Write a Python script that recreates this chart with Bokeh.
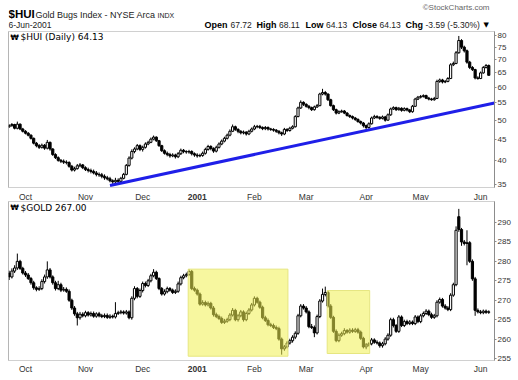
import math
import numpy as np
import pandas as pd
from bokeh.plotting import figure
from bokeh.layouts import column
from bokeh.models import ColumnDataSource, Range1d, FixedTicker, NumeralTickFormatter, Label, Span
from bokeh.core.properties import value
from bokeh.embed import file_html
from bokeh.resources import INLINE

# ---------------- data ----------------
holidays = ["2000-11-23", "2000-12-25", "2001-01-01", "2001-01-15",
            "2001-02-19", "2001-04-13", "2001-05-28"]
month_keys = ["2000-10", "2000-11", "2000-12", "2001-01", "2001-02",
              "2001-03", "2001-04", "2001-05", "2001-06"]
month_labels = ["Oct", "Nov", "Dec", "2001", "Feb", "Mar", "Apr", "May", "Jun"]
hui_ticks = [35, 40, 45, 50, 55, 60, 65, 70, 75, 80]
gold_ticks = [255, 260, 265, 270, 275, 280, 285, 290]

hui_open = [
    48.2, 48.5, 48.8, 47.8, 48.9, 47.6,
    47.0, 46.5, 46.0, 45.2, 44.0, 43.4, 43.0, 43.5, 42.8, 44.2,
    42.6, 41.3, 40.6, 40.0, 39.8, 39.6, 39.5, 38.7, 37.9, 38.2,
    38.8, 39.0, 38.4, 38.0, 37.8, 37.6, 37.3, 37.0, 36.9, 36.6,
    36.3, 36.1, 35.7, 35.5, 35.8, 35.6, 36.2, 37.0, 38.9, 40.5,
    42.0, 42.6, 43.4, 42.5, 43.0, 43.8, 44.2, 45.0, 45.5, 44.6,
    43.4, 42.2, 41.6, 41.3, 41.0, 41.2, 40.8, 41.5, 42.3, 42.0,
    41.9, 42.0, 41.5, 41.2, 41.0, 41.1, 41.6, 42.5, 43.2, 42.7,
    42.1, 43.0, 43.8, 44.5, 45.2, 46.0, 47.0, 48.2, 47.5, 47.0,
    46.6, 46.8, 46.3, 47.0, 47.6, 48.2, 48.3, 48.0, 47.7, 48.0,
    47.6, 47.5, 47.3, 47.0, 46.6, 46.3, 47.5, 47.2, 47.8, 48.2,
    51.0, 53.5, 55.2, 54.6, 54.0, 53.6, 53.0, 53.8, 54.2, 57.8,
    58.3, 57.8, 56.0, 54.2, 53.0, 52.0, 52.4, 52.6, 52.0, 51.3,
    51.0, 50.6, 50.2, 49.6, 49.2, 48.5, 48.0, 49.0, 50.6, 51.0,
    50.8, 50.5, 50.9, 50.0, 51.5, 53.2, 53.6, 53.0, 53.4, 52.8,
    53.3, 52.9, 52.4, 54.0, 56.2, 56.8, 57.0, 57.3, 56.5, 56.2,
    56.0, 56.4, 62.0, 62.5, 61.8, 62.0, 63.0, 68.0, 68.5, 72.7,
    77.8, 75.0, 73.5, 69.0, 67.0, 66.2, 63.2, 63.0, 65.0, 67.0,
    67.72]
hui_high = [
    48.9, 49.2, 49.0, 49.6, 49.1, 47.9,
    47.3, 46.8, 46.2, 45.4, 44.3, 43.8, 43.9, 43.8, 44.8, 44.4,
    42.8, 41.6, 40.9, 40.3, 40.2, 40.0, 39.8, 39.0, 38.6, 39.2,
    39.4, 39.2, 38.7, 38.4, 38.2, 38.0, 37.7, 37.4, 37.3, 37.0,
    36.7, 36.5, 36.0, 36.3, 36.2, 36.5, 37.3, 39.2, 40.9, 42.5,
    43.0, 43.8, 43.7, 43.4, 44.2, 44.6, 45.4, 45.9, 45.7, 44.8,
    43.6, 42.5, 42.0, 41.7, 41.6, 41.5, 41.9, 42.7, 42.6, 42.3,
    42.4, 42.3, 41.8, 41.6, 41.5, 42.0, 42.9, 43.6, 43.5, 43.0,
    43.4, 44.2, 44.9, 45.6, 46.4, 47.5, 48.8, 48.5, 47.8, 47.3,
    47.2, 47.0, 47.4, 48.0, 48.7, 48.7, 48.7, 48.3, 48.4, 48.3,
    47.9, 47.8, 47.6, 47.3, 46.9, 47.9, 47.8, 48.2, 48.6, 51.4,
    53.9, 55.8, 55.5, 54.9, 54.4, 53.9, 54.2, 54.7, 58.2, 59.5,
    58.8, 58.0, 56.3, 54.5, 53.3, 52.8, 53.0, 52.9, 52.3, 51.6,
    51.3, 50.9, 50.5, 49.9, 49.5, 48.8, 49.4, 51.0, 51.5, 51.4,
    51.1, 51.3, 51.2, 51.9, 53.6, 54.0, 53.9, 53.8, 53.7, 53.7,
    53.6, 53.2, 54.4, 56.6, 57.2, 57.5, 57.7, 57.6, 56.9, 56.6,
    56.9, 62.6, 63.0, 62.9, 62.5, 63.5, 68.6, 69.2, 73.4, 79.8,
    78.4, 75.6, 74.0, 69.5, 67.5, 66.5, 63.8, 65.5, 67.5, 68.3,
    68.11]
hui_low = [
    47.9, 48.2, 47.5, 47.5, 47.3, 46.7,
    46.2, 45.7, 44.9, 43.7, 43.0, 42.6, 42.7, 42.4, 42.5, 42.2,
    41.0, 40.3, 39.7, 39.4, 39.2, 39.1, 38.4, 37.6, 37.6, 38.0,
    38.5, 38.1, 37.7, 37.4, 37.2, 37.0, 36.6, 36.5, 36.2, 35.9,
    35.8, 35.4, 35.1, 35.2, 35.3, 35.4, 36.0, 36.8, 38.6, 40.2,
    41.6, 42.3, 42.1, 42.0, 42.7, 43.5, 44.0, 44.7, 44.3, 43.1,
    41.9, 41.3, 40.9, 40.6, 40.7, 40.4, 40.5, 41.2, 41.6, 41.5,
    41.5, 41.1, 40.8, 40.6, 40.7, 40.8, 41.3, 42.2, 42.3, 41.7,
    41.8, 42.7, 43.5, 44.2, 44.9, 45.7, 46.8, 47.1, 46.5, 46.2,
    46.2, 45.9, 46.0, 46.7, 47.3, 47.8, 47.6, 47.3, 47.3, 47.2,
    47.1, 46.9, 46.6, 46.2, 45.8, 46.0, 46.8, 46.9, 47.5, 48.0,
    50.8, 53.2, 54.1, 53.6, 53.1, 52.6, 52.7, 53.5, 54.0, 57.4,
    57.3, 55.6, 53.9, 52.6, 51.6, 51.7, 52.1, 51.7, 51.0, 50.6,
    50.2, 49.8, 49.3, 48.8, 48.0, 47.3, 47.7, 48.8, 50.3, 50.4,
    50.1, 50.2, 49.6, 49.8, 51.2, 52.9, 52.6, 52.7, 52.4, 52.5,
    52.5, 52.0, 52.1, 53.8, 55.9, 56.4, 56.7, 56.2, 55.8, 55.7,
    55.7, 56.2, 61.5, 61.3, 61.4, 61.7, 62.8, 67.5, 68.2, 72.3,
    74.2, 72.8, 68.4, 66.4, 65.7, 62.7, 62.6, 62.8, 64.7, 66.6,
    64.13]
hui_close = [
    48.5, 48.8, 47.8, 48.9, 47.6, 47.0,
    46.5, 46.0, 45.2, 44.0, 43.4, 43.0, 43.5, 42.8, 44.2, 42.6,
    41.3, 40.6, 40.0, 39.8, 39.6, 39.5, 38.7, 37.9, 38.2, 38.8,
    39.0, 38.4, 38.0, 37.8, 37.6, 37.3, 37.0, 36.9, 36.6, 36.3,
    36.1, 35.7, 35.5, 35.8, 35.6, 36.2, 37.0, 38.9, 40.5, 42.0,
    42.6, 43.4, 42.5, 43.0, 43.8, 44.2, 45.0, 45.5, 44.6, 43.4,
    42.2, 41.6, 41.3, 41.0, 41.2, 40.8, 41.5, 42.3, 42.0, 41.9,
    42.0, 41.5, 41.2, 41.0, 41.1, 41.6, 42.5, 43.2, 42.7, 42.1,
    43.0, 43.8, 44.5, 45.2, 46.0, 47.0, 48.2, 47.5, 47.0, 46.6,
    46.8, 46.3, 47.0, 47.6, 48.2, 48.3, 48.0, 47.7, 48.0, 47.6,
    47.5, 47.3, 47.0, 46.6, 46.3, 47.5, 47.2, 47.8, 48.2, 51.0,
    53.5, 55.2, 54.6, 54.0, 53.6, 53.0, 53.8, 54.2, 57.8, 58.3,
    57.8, 56.0, 54.2, 53.0, 52.0, 52.4, 52.6, 52.0, 51.3, 51.0,
    50.6, 50.2, 49.6, 49.2, 48.5, 48.0, 49.0, 50.6, 51.0, 50.8,
    50.5, 50.9, 50.0, 51.5, 53.2, 53.6, 53.0, 53.4, 52.8, 53.3,
    52.9, 52.4, 54.0, 56.2, 56.8, 57.0, 57.3, 56.5, 56.2, 56.0,
    56.4, 62.0, 62.5, 61.8, 62.0, 63.0, 68.0, 68.5, 72.7, 77.8,
    75.0, 73.5, 69.0, 67.0, 66.2, 63.2, 63.0, 65.0, 67.0, 67.7,
    64.13]

gold_open = [
    277.0, 276.0, 277.5, 278.3, 280.0, 278.2,
    277.0, 276.5, 275.6, 274.5, 273.2, 272.8, 273.0, 274.8, 276.0, 277.8,
    276.0, 274.5, 273.0, 274.0, 272.6, 272.8, 272.3, 270.0, 268.0, 266.5,
    265.5, 266.4, 266.0, 266.8, 266.2, 266.6, 265.9, 266.5, 266.0, 265.8,
    266.1, 265.6, 265.9, 265.7, 266.6, 266.8, 267.0, 266.7, 267.0, 265.5,
    270.5, 273.0, 271.0, 272.5, 274.3, 273.8, 275.0, 276.3, 277.2, 275.6,
    273.0, 271.6, 272.2, 273.0, 272.6, 272.0, 272.3, 274.2, 275.8, 276.3,
    276.6, 277.4, 273.0, 272.6, 271.6, 269.0, 269.4, 268.8, 269.2, 268.0,
    266.3, 265.8, 265.3, 264.3, 264.6, 265.0, 266.2, 267.4, 265.0, 266.0,
    267.0, 265.0, 266.6, 267.5, 268.8, 270.5, 269.5, 268.2, 265.5, 264.8,
    263.7, 263.5, 263.0, 262.7, 260.0, 257.5, 258.0, 259.0, 259.6, 260.5,
    261.5, 266.0, 268.5, 268.0, 267.0, 263.2, 263.0, 261.6, 265.8, 269.8,
    271.5, 272.0, 268.5, 265.6, 262.0, 259.6, 261.0, 261.4, 262.2, 261.8,
    262.3, 262.0, 262.4, 261.8, 260.2, 258.0, 258.5, 258.8, 259.8, 259.2,
    259.0, 258.3, 258.8, 260.0, 261.0, 265.0, 263.5, 262.0, 265.7, 263.5,
    264.5, 264.0, 264.4, 264.0, 265.7, 264.5, 266.0, 266.6, 267.2, 266.3,
    265.6, 266.0, 269.5, 270.2, 268.5, 268.0, 267.6, 271.3, 274.0, 291.5,
    288.2, 285.0, 284.6, 284.8, 280.0, 275.5, 267.4, 267.0, 266.8, 267.2,
    266.9]
gold_high = [
    277.6, 278.2, 279.0, 282.0, 280.4, 278.6,
    277.5, 277.0, 276.0, 275.0, 273.6, 273.6, 275.4, 276.6, 280.0, 278.3,
    276.4, 275.0, 275.0, 274.5, 273.4, 273.3, 272.8, 270.4, 268.5, 267.0,
    267.0, 266.9, 267.3, 267.2, 267.1, 267.1, 266.9, 267.0, 266.5, 266.6,
    266.6, 266.4, 266.3, 269.5, 267.3, 267.5, 267.4, 267.5, 267.4, 271.0,
    273.6, 273.4, 273.0, 274.8, 274.8, 275.5, 276.8, 278.0, 277.6, 275.9,
    273.4, 272.8, 273.5, 273.4, 273.0, 272.8, 274.8, 276.3, 276.8, 277.1,
    278.0, 277.8, 273.5, 273.0, 272.0, 270.0, 269.9, 269.7, 269.6, 268.5,
    266.8, 266.3, 265.8, 265.2, 265.5, 266.7, 268.0, 267.8, 266.5, 267.5,
    267.4, 267.1, 268.0, 269.3, 271.0, 270.9, 269.9, 268.6, 266.0, 265.3,
    264.2, 264.0, 263.5, 263.2, 260.4, 258.5, 259.5, 260.1, 261.0, 262.0,
    266.5, 269.0, 269.0, 268.5, 267.4, 263.9, 263.5, 266.3, 270.3, 273.0,
    273.5, 272.4, 269.0, 266.0, 262.5, 261.5, 261.9, 262.8, 262.6, 262.8,
    262.8, 262.9, 262.9, 262.2, 260.6, 259.0, 259.2, 260.3, 260.2, 259.7,
    259.4, 259.3, 260.5, 261.5, 265.5, 265.5, 263.9, 266.2, 266.1, 265.0,
    265.0, 264.9, 264.8, 266.2, 266.1, 266.5, 267.1, 267.7, 267.6, 266.8,
    266.5, 270.0, 270.7, 270.6, 269.0, 268.5, 271.8, 274.5, 289.0, 293.5,
    288.6, 285.5, 288.0, 285.2, 280.5, 276.0, 267.9, 267.5, 267.6, 267.6,
    267.4]
gold_low = [
    275.2, 275.6, 277.0, 277.8, 277.8, 276.6,
    276.0, 275.2, 274.0, 272.7, 272.3, 272.4, 272.6, 274.3, 275.5, 275.6,
    274.0, 272.5, 272.6, 272.1, 272.2, 271.9, 269.6, 267.5, 266.0, 263.5,
    265.0, 265.6, 265.6, 265.8, 265.8, 265.5, 265.5, 265.6, 265.4, 265.4,
    265.2, 265.2, 265.3, 265.3, 266.2, 266.4, 266.3, 266.3, 265.1, 265.0,
    270.0, 270.5, 270.6, 272.0, 273.3, 273.4, 274.6, 275.9, 275.2, 272.6,
    271.2, 271.2, 271.8, 272.2, 271.6, 271.6, 271.9, 273.8, 275.4, 275.9,
    276.2, 272.6, 272.2, 271.2, 268.6, 268.6, 268.4, 268.4, 267.6, 265.8,
    265.4, 264.9, 263.9, 263.9, 264.2, 264.6, 265.8, 264.6, 264.5, 265.6,
    264.5, 264.6, 266.2, 267.1, 268.4, 269.1, 267.8, 265.1, 264.4, 263.3,
    263.1, 262.6, 262.3, 259.6, 256.0, 257.0, 257.6, 258.6, 259.1, 260.0,
    261.1, 265.6, 267.6, 266.6, 262.8, 262.6, 260.5, 261.2, 265.4, 269.4,
    271.0, 268.1, 265.2, 261.6, 259.2, 259.2, 260.6, 261.0, 261.4, 261.4,
    261.6, 261.6, 261.4, 259.8, 257.6, 257.4, 258.1, 258.4, 258.8, 258.6,
    257.8, 257.8, 258.4, 259.6, 260.6, 263.0, 261.6, 261.6, 263.1, 263.1,
    263.6, 263.6, 263.6, 263.6, 264.1, 264.1, 265.6, 266.2, 265.9, 265.2,
    265.2, 265.6, 269.1, 268.1, 267.6, 267.2, 267.2, 270.9, 273.6, 287.6,
    284.0, 284.1, 279.0, 279.6, 275.0, 266.0, 266.6, 266.4, 266.4, 266.5,
    266.5]
gold_close = [
    276.0, 277.5, 278.3, 280.0, 278.2, 277.0,
    276.5, 275.6, 274.5, 273.2, 272.8, 273.0, 274.8, 276.0, 277.8, 276.0,
    274.5, 273.0, 274.0, 272.6, 272.8, 272.3, 270.0, 268.0, 266.5, 265.5,
    266.4, 266.0, 266.8, 266.2, 266.6, 265.9, 266.5, 266.0, 265.8, 266.1,
    265.6, 265.9, 265.7, 266.6, 266.8, 267.0, 266.7, 267.0, 265.5, 270.5,
    273.0, 271.0, 272.5, 274.3, 273.8, 275.0, 276.3, 277.2, 275.6, 273.0,
    271.6, 272.2, 273.0, 272.6, 272.0, 272.3, 274.2, 275.8, 276.3, 276.6,
    277.4, 273.0, 272.6, 271.6, 269.0, 269.4, 268.8, 269.2, 268.0, 266.3,
    265.8, 265.3, 264.3, 264.6, 265.0, 266.2, 267.4, 265.0, 266.0, 267.0,
    265.0, 266.6, 267.5, 268.8, 270.5, 269.5, 268.2, 265.5, 264.8, 263.7,
    263.5, 263.0, 262.7, 260.0, 257.5, 258.0, 259.0, 259.6, 260.5, 261.5,
    266.0, 268.5, 268.0, 267.0, 263.2, 263.0, 261.6, 265.8, 269.8, 271.5,
    272.0, 268.5, 265.6, 262.0, 259.6, 261.0, 261.4, 262.2, 261.8, 262.3,
    262.0, 262.4, 261.8, 260.2, 258.0, 258.5, 258.8, 259.8, 259.2, 259.0,
    258.3, 258.8, 260.0, 261.0, 265.0, 263.5, 262.0, 265.7, 263.5, 264.5,
    264.0, 264.4, 264.0, 265.7, 264.5, 266.0, 266.6, 267.2, 266.3, 265.6,
    266.0, 269.5, 270.2, 268.5, 268.0, 267.6, 271.3, 274.0, 288.0, 288.2,
    285.0, 284.6, 284.8, 280.0, 275.5, 267.4, 267.0, 266.8, 267.2, 266.9,
    267.0]

# trend line (drawn annotation) and highlight boxes
trend_start_date = "2000-11-14"
trend_values = [34.8, 55.0]          # at start date and at right edge of chart
box_from = ["2000-12-27", "2001-03-13"]
box_to = ["2001-02-20", "2001-04-03"]
box_high = [278.0, 272.5]
box_low = [255.6, 256.3]

# ---------------- dates / index ----------------
hol = set(pd.to_datetime(holidays))
dates = [d for d in pd.bdate_range("2000-09-22", "2001-06-06") if d not in hol]
origin = dates.index(pd.Timestamp("2000-10-02"))
days = np.arange(len(dates)) - origin


def day_of(s):
    return dates.index(pd.Timestamp(s)) - origin


for arr in (hui_open, hui_high, hui_low, hui_close, gold_open, gold_high, gold_low, gold_close):
    assert len(arr) == len(dates), (len(arr), len(dates))

month_days = []
for k in month_keys:
    month_days.append(next(i for i, d in enumerate(dates) if d.strftime("%Y-%m") == k) - origin)

# ---------------- geometry (page pixels) ----------------
X0, X1 = -6.24, 172.1
LEFT = 8
FW = 486
RB = 24
TOTAL_W = LEFT + FW + RB
PPD = FW / (X1 - X0)
Y1_LO, Y1_HI = 34.4, 81.8
Y2_LO, Y2_HI = 254.5, 295.4
F1_TOP, F1_H = 31, 156
F2_TOP, F2_H = 201, 159
HEAD_H = 30
P1_BT = F1_TOP - HEAD_H
P1_BB = 2
P2_BT = 1
STRIP1_H = F2_TOP - P2_BT - (F1_TOP + F1_H + P1_BB)
P2_BB = 3
STRIP2_H = 14

SANS = "Liberation Sans"


def fx(px):
    return X0 + (px - LEFT) / PPD


def fy1(py):
    return Y1_HI * math.exp(-(py - F1_TOP) / F1_H * math.log(Y1_HI / Y1_LO))


def fy2(py):
    return Y2_HI - (py - F2_TOP) / F2_H * (Y2_HI - Y2_LO)


def make_fig(height, x_range, y_range, bt, bb, **kw):
    return figure(width=TOTAL_W, height=height, x_range=x_range, y_range=y_range, title=None,
                  min_border_left=LEFT, min_border_right=RB, min_border_top=bt, min_border_bottom=bb,
                  output_backend="svg", toolbar_location=None,
                  background_fill_color="white", border_fill_color="white", **kw)


def bare(p):
    p.grid.visible = False
    p.outline_line_color = None
    return p


def style(p, ticks):
    p.grid.visible = False
    p.outline_line_color = "#a0a0a0"
    p.outline_line_dash = "1 1"
    ax = p.yaxis[0]
    ax.ticker = FixedTicker(ticks=ticks)
    ax.formatter = NumeralTickFormatter(format="0")
    ax.axis_line_color = "#8c8c8c"
    ax.major_tick_line_color = "#8c8c8c"
    ax.major_tick_out = 2
    ax.major_tick_in = 0
    ax.minor_tick_line_color = None
    ax.major_label_standoff = 1
    ax.major_label_text_font = SANS
    ax.major_label_text_font_size = "8px"
    ax.major_label_text_color = "#333333"
    p.add_layout(Span(location=X0, dimension="height", line_color="#9a9a9a", line_width=1))


def candles(p, o, h, l, c):
    o = np.array(o); h = np.array(h); l = np.array(l); c = np.array(c)
    up = c >= o
    src = ColumnDataSource(dict(x=days, top=np.maximum(o, c), bottom=np.minimum(o, c),
                                high=h, low=l, fill=np.where(up, "white", "black")))
    p.segment(x0="x", x1="x", y0="low", y1="high", source=src, line_color="black", line_width=1)
    p.vbar(x="x", width=0.8, top="top", bottom="bottom", fill_color="fill",
           line_color="black", line_width=1, source=src)


def txt(p, x, y, t, size, bold=False, color="#000000", align="left", base="middle", font=SANS):
    p.text(x=[x], y=[y], text=[t], text_font=value(font), text_font_size=value(size),
           text_font_style="bold" if bold else "normal", text_color=color,
           text_align=align, text_baseline=base)


def lab(p, x, y, t, size, font="DejaVu Sans", bold=False):
    p.add_layout(Label(x=x, y=y, text=t, text_font=font, text_font_size=size,
                       text_font_style="bold" if bold else "normal",
                       text_color="#000000", text_align="left", text_baseline="middle"))


# ---------------- top panel ----------------
p1 = make_fig(P1_BT + F1_H + P1_BB, Range1d(X0, X1), Range1d(Y1_LO, Y1_HI), P1_BT, P1_BB,
              y_axis_type="log", y_axis_location="right", x_axis_location=None)
style(p1, hui_ticks)
candles(p1, hui_open, hui_high, hui_low, hui_close)
ts = day_of(trend_start_date)
p1.line([ts, X1], trend_values, line_color="#1f1fe8", line_width=3)
lab(p1, fx(10), fy1(36.5), "\u20a9", "7.5px", bold=True)
lab(p1, fx(20), fy1(36.5), "$HUI (Daily) 64.13", "9px")

# ---------------- header strip: same horizontal geometry as the panels ----------------
head = bare(make_fig(HEAD_H, p1.x_range, Range1d(HEAD_H, 0), 0, 0,
                     x_axis_location=None, y_axis_location=None))
txt(head, fx(8), 13.5, "$HUI", "11.5px", bold=True)
txt(head, fx(35), 14, "Gold Bugs Index - NYSE Arca", "9px", color="#222222")
txt(head, fx(157), 15, "INDX", "7px", color="#222222")
txt(head, fx(8), 24.5, "6-Jun-2001", "8.5px", color="#222222")
txt(head, fx(489), 7, "\u00a9StockCharts.com", "8px", color="#666666", align="right")
ohlc = [("Open", True, 204), ("67.72", False, 230), ("High", True, 256), ("68.11", False, 278.5),
        ("Low", True, 305), ("64.13", False, 325.5), ("Close", True, 352), ("64.13", False, 379),
        ("Chg", True, 405), ("-3.59 (-5.30%)", False, 425)]
for t, b, px in ohlc:
    txt(head, fx(px), 24.5, t, "9px" if b else "8.5px", bold=b, color="#000000" if b else "#222222")
txt(head, fx(483), 24.5, "\u25bc", "7px", font="DejaVu Sans")

# ---------------- month strip 1 ----------------
s1 = bare(make_fig(STRIP1_H, p1.x_range, Range1d(STRIP1_H, 0), 0, 0,
                   x_axis_location=None, y_axis_location=None))
s1_center = 195 - (F1_TOP + F1_H + P1_BB)
for d, t in zip(month_days, month_labels):
    txt(s1, d, s1_center, t, "8.5px", bold=(t == "2001"), color="#333333", align="center")

# ---------------- bottom panel ----------------
p2 = make_fig(P2_BT + F2_H + P2_BB, p1.x_range, Range1d(Y2_LO, Y2_HI), P2_BT, P2_BB,
              y_axis_location="right", x_axis_location=None)
style(p2, gold_ticks)
candles(p2, gold_open, gold_high, gold_low, gold_close)
bl = [day_of(s) - 0.3 for s in box_from]
br = [day_of(s) + 0.3 for s in box_to]
p2.quad(left=bl, right=br, top=box_high, bottom=box_low, fill_color="#f0f050", fill_alpha=0.55,
        line_color="#e6e680", line_width=1)
lab(p2, fx(10), fy2(207), "\u20a9", "7.5px", bold=True)
lab(p2, fx(20), fy2(207), "$GOLD 267.00", "9px")

# ---------------- month strip 2 ----------------
s2 = bare(make_fig(STRIP2_H, p1.x_range, Range1d(STRIP2_H, 0), 0, 0,
                   x_axis_location=None, y_axis_location=None))
for d, t in zip(month_days, month_labels):
    txt(s2, d, 5, t, "8.5px", bold=(t == "2001"), color="#333333", align="center")

layout = column(head, p1, s1, p2, s2, spacing=0)
open("out.html", "w").write(file_html(layout, INLINE))
